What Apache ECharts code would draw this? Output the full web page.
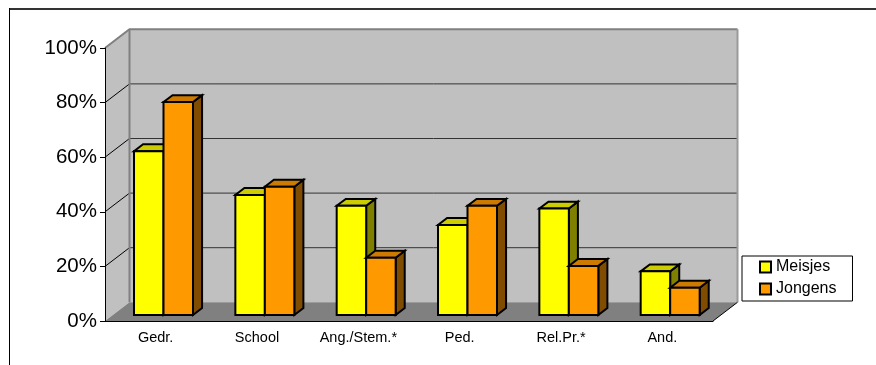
<!DOCTYPE html>
<html>
<head>
<meta charset="utf-8">
<style>
  html, body { margin: 0; padding: 0; background: #fff; }
  #chart { width: 876px; height: 365px; }
</style>
<script src="https://cdn.jsdelivr.net/npm/echarts@6/dist/echarts.min.js"></script>
</head>
<body>
<div id="chart"></div>
<script>
// Categories and percentages per group
const categories = ['Gedr.', 'School', 'Ang./Stem.*', 'Ped.', 'Rel.Pr.*', 'And.'];
const meisjes = [60, 44, 40, 33, 39, 16];
const jongens = [78, 47, 21, 40, 18, 10];
const yTicks = [0, 20, 40, 60, 80, 100];

// Oblique projection used for the pseudo-3D look
const DEPTH = [24.5, -18.7];   // offset from front plane to back wall
const BAR_NEAR = 0.32;         // bar front face, fraction of depth
const BAR_FAR = 0.69;          // bar back face, fraction of depth
const BAR_FRAC = 0.291;        // bar width as fraction of a category band
const FONT = '"Liberation Sans", Arial, sans-serif';

const chart = echarts.init(document.getElementById('chart'));

function pt(p, d, k) { return [p[0] + d[0] * k, p[1] + d[1] * k]; }

// Walls, floor and wall gridlines
function renderFrame(params, api) {
  const cs = params.coordSys;
  const x0 = cs.x, x1 = cs.x + cs.width;
  const yTop = cs.y, yBot = cs.y + cs.height;
  const dx = DEPTH[0], dy = DEPTH[1];
  const children = [];
  // back wall
  children.push({ type: 'polygon', shape: { points: [[x0 + dx, yTop + dy], [x1 + dx, yTop + dy], [x1 + dx, yBot + dy], [x0 + dx, yBot + dy]] },
    style: { fill: '#c0c0c0', stroke: null } });
  // side wall
  children.push({ type: 'polygon', shape: { points: [[x0, yTop], [x0 + dx, yTop + dy], [x0 + dx, yBot + dy], [x0, yBot]] },
    style: { fill: '#c0c0c0', stroke: null } });
  // floor
  children.push({ type: 'polygon', shape: { points: [[x0, yBot], [x1, yBot], [x1 + dx, yBot + dy], [x0 + dx, yBot + dy]] },
    style: { fill: '#808080', stroke: null } });
  // gridlines on back and side walls
  yTicks.forEach(function (t) {
    if (t === 0 || t === 100) return;
    const y = api.coord([0, t])[1];
    children.push({ type: 'line', shape: { x1: x0 + dx, y1: y + dy, x2: x1 + dx, y2: y + dy },
      style: { stroke: '#333', lineWidth: 1 } });
    children.push({ type: 'line', shape: { x1: x0, y1: y, x2: x0 + dx, y2: y + dy },
      style: { stroke: '#000', lineWidth: 1 } });
  });
  // wall edges
  children.push({ type: 'polyline', shape: { points: [[x0, yTop], [x0 + dx, yTop + dy], [x1 + dx, yTop + dy]] },
    style: { stroke: '#808080', lineWidth: 2, fill: null } });
  children.push({ type: 'line', shape: { x1: x0 + dx, y1: yTop + dy, x2: x0 + dx, y2: yBot + dy },
    style: { stroke: '#808080', lineWidth: 2 } });
  children.push({ type: 'line', shape: { x1: x1 + dx, y1: yTop + dy, x2: x1 + dx, y2: yBot + dy },
    style: { stroke: '#9a9a9a', lineWidth: 2 } });
  // right floor edge
  children.push({ type: 'line', shape: { x1: x1, y1: yBot, x2: x1 + dx, y2: yBot + dy },
    style: { stroke: '#000', lineWidth: 1 } });
  return { type: 'group', children: children };
}

// 3D bar: front face, top and right side
function barRenderer(slot, colors) {
  return function (params, api) {
    const i = api.value(0), v = api.value(1);
    const topPt = api.coord([i, v]);
    const basePt = api.coord([i, 0]);
    const w = api.size([1, 0])[0] * BAR_FRAC;
    const xa = topPt[0] + (slot === 0 ? -w : 0), xb = xa + w;
    const ft = pt([xa, topPt[1]], DEPTH, BAR_NEAR), ftr = pt([xb, topPt[1]], DEPTH, BAR_NEAR);
    const fb = pt([xa, basePt[1]], DEPTH, BAR_NEAR), fbr = pt([xb, basePt[1]], DEPTH, BAR_NEAR);
    const bt = pt([xa, topPt[1]], DEPTH, BAR_FAR), btr = pt([xb, topPt[1]], DEPTH, BAR_FAR);
    const bbr = pt([xb, basePt[1]], DEPTH, BAR_FAR);
    const line = { stroke: '#000', lineWidth: 2, lineJoin: 'miter' };
    return {
      type: 'group',
      children: [
        { type: 'polygon', shape: { points: [ftr, btr, bbr, fbr] }, style: Object.assign({ fill: colors.side }, line) },
        { type: 'polygon', shape: { points: [ft, ftr, btr, bt] }, style: Object.assign({ fill: colors.top }, line) },
        { type: 'polygon', shape: { points: [ft, ftr, fbr, fb] }, style: Object.assign({ fill: colors.front }, line) }
      ]
    };
  };
}

const yellow = { front: '#ffff00', top: '#cccc00', side: '#808000' };
const orange = { front: '#ff9900', top: '#cc7a00', side: '#7f4c00' };

chart.setOption({
  animation: false,
  backgroundColor: '#fff',
  grid: { left: 105, top: 48, right: 163, bottom: 44 },
  xAxis: {
    type: 'category',
    data: categories,
    z: 10,
    axisLine: { lineStyle: { color: '#000', width: 1 } },
    axisTick: { length: 5, lineStyle: { color: '#000' } },
    axisLabel: { color: '#000', fontFamily: FONT, fontSize: 14.5, margin: 9 },
    splitLine: { show: false }
  },
  yAxis: {
    type: 'value',
    min: 0, max: 100, interval: 20,
    z: 10,
    axisLine: { show: true, lineStyle: { color: '#000', width: 1 } },
    axisTick: { show: true, length: 5, lineStyle: { color: '#000' } },
    axisLabel: { color: '#000', fontFamily: FONT, fontSize: 20.5, margin: 8, formatter: '{value}%' },
    splitLine: { show: false }
  },
  legend: {
    data: ['Meisjes', 'Jongens'],
    orient: 'vertical',
    left: 742, top: 256,
    icon: 'rect',
    itemWidth: 11, itemHeight: 11,
    itemGap: 6,
    padding: [3, 16, 4, 17],
    backgroundColor: '#fff',
    borderColor: '#000', borderWidth: 1,
    itemStyle: { borderColor: '#000', borderWidth: 2 },
    textStyle: { color: '#000', fontFamily: FONT, fontSize: 16, lineHeight: 16 }
  },
  graphic: [
    { type: 'line', shape: { x1: 9, y1: 9, x2: 876, y2: 9 }, style: { stroke: '#333', lineWidth: 2 } },
    { type: 'line', shape: { x1: 9.5, y1: 8, x2: 9.5, y2: 365 }, style: { stroke: '#000', lineWidth: 1 } }
  ],
  series: [
    { type: 'custom', name: 'frame', silent: true, z: 1, data: [[0, 0]], encode: { x: 0, y: 1 }, renderItem: renderFrame },
    { type: 'custom', name: 'Meisjes', z: 2, itemStyle: { color: yellow.front },
      data: meisjes.map(function (v, i) { return [i, v]; }), encode: { x: 0, y: 1 }, renderItem: barRenderer(0, yellow) },
    { type: 'custom', name: 'Jongens', z: 3, itemStyle: { color: orange.front },
      data: jongens.map(function (v, i) { return [i, v]; }), encode: { x: 0, y: 1 }, renderItem: barRenderer(1, orange) }
  ]
});
</script>
</body>
</html>
